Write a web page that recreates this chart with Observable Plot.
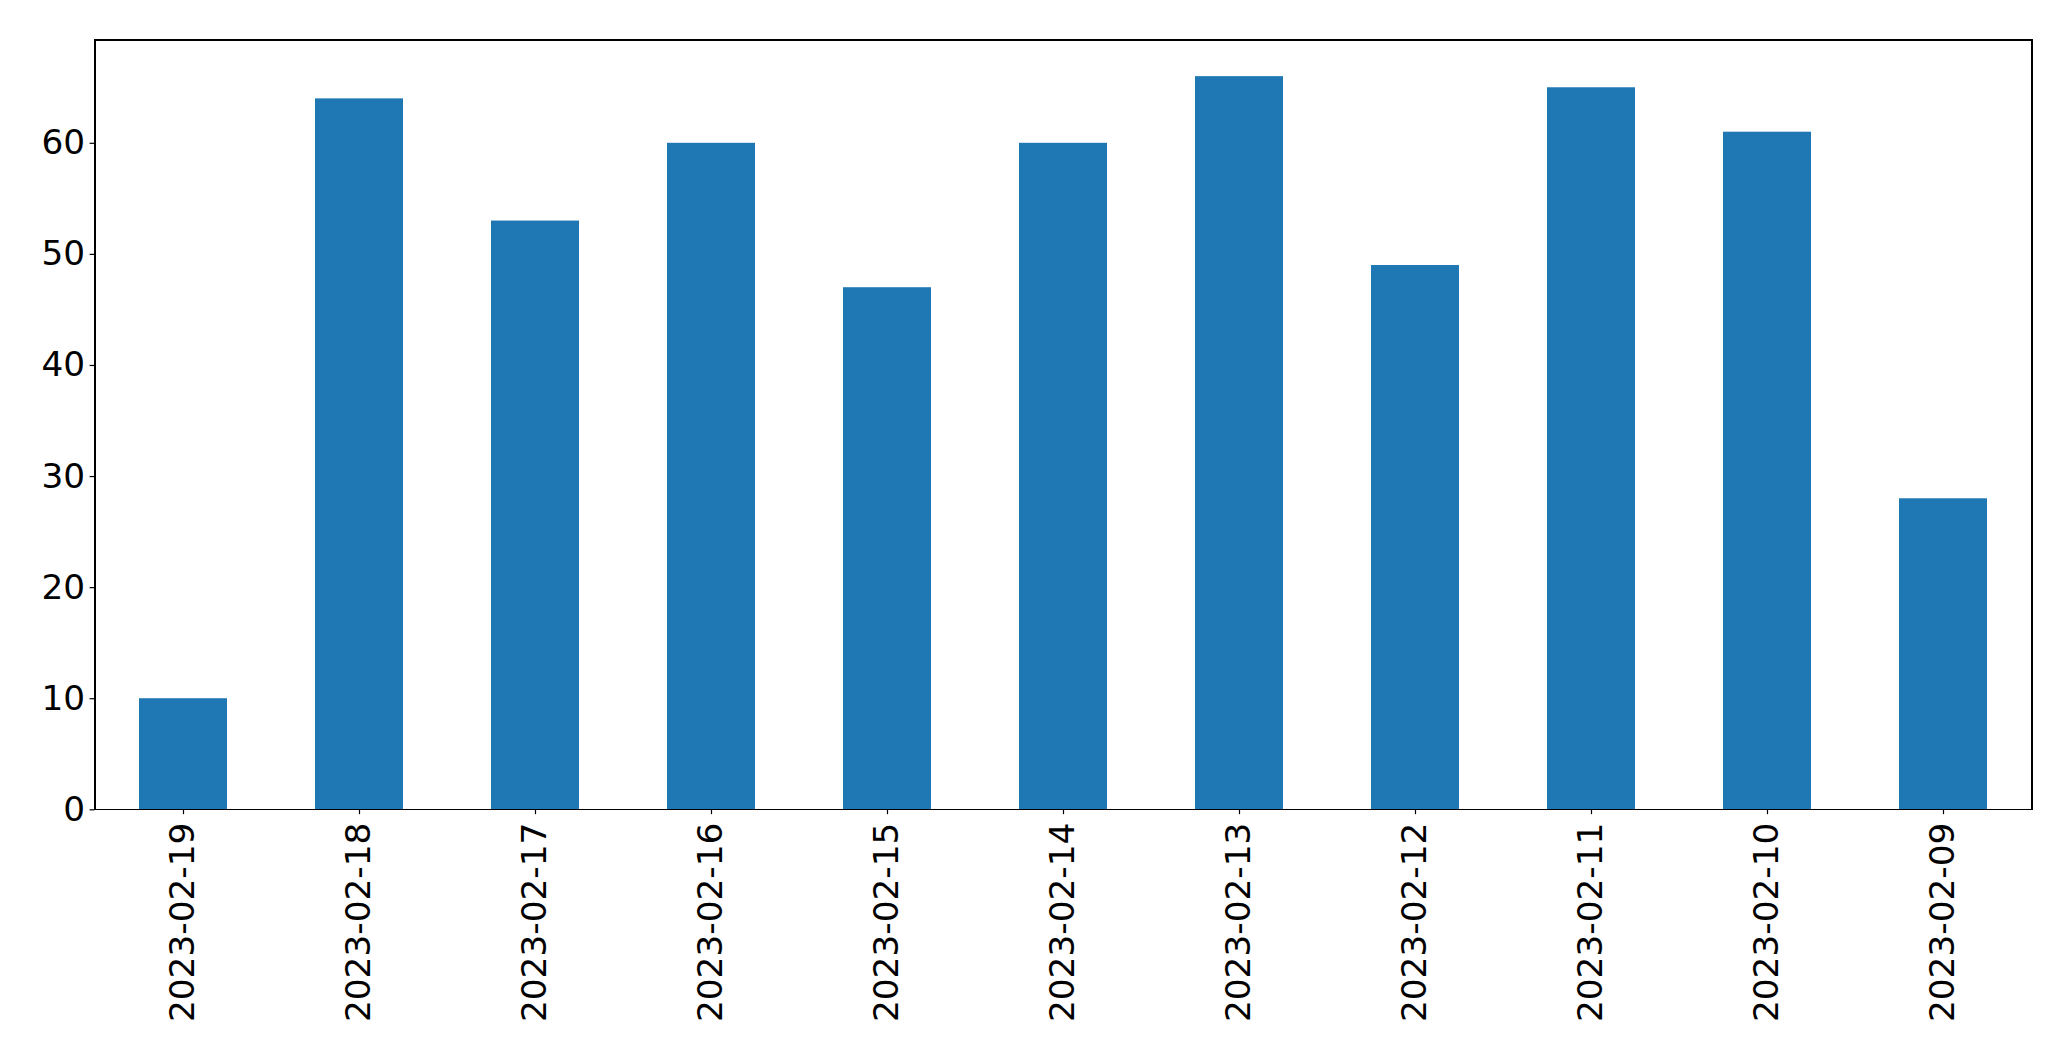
<!DOCTYPE html>
<html>
<head>
<meta charset="utf-8">
<script src="https://cdn.jsdelivr.net/npm/d3@7"></script>
<script src="https://cdn.jsdelivr.net/npm/@observablehq/plot@0.6"></script>
<style>
  html, body { margin: 0; padding: 0; background: white; }
  svg { display: block; }
</style>
</head>
<body>
<div id="chart"></div>
<script>
const dates = ["2023-02-19", "2023-02-18", "2023-02-17", "2023-02-16", "2023-02-15", "2023-02-14", "2023-02-13", "2023-02-12", "2023-02-11", "2023-02-10", "2023-02-09"];
const counts = [10, 64, 53, 60, 47, 60, 66, 49, 65, 61, 28];
const yTicks = [0, 10, 20, 30, 40, 50, 60];

const data = dates.map((d, i) => ({date: d, count: counts[i]}));

const chart = Plot.plot({
  width: 2071,
  height: 1061,
  marginLeft: 94.5,
  marginRight: 39.5,
  marginTop: 39.5,
  marginBottom: 251.7,
  style: {fontFamily: "'DejaVu Sans', sans-serif", fontSize: "34.3px", color: "black", background: "white", overflow: "visible"},
  x: {domain: dates, paddingInner: 0.5, paddingOuter: 0.25, label: null},
  y: {domain: [0, 69.3], label: null},
  marks: [
    Plot.barY(data, {x: "date", y: "count", fill: "#1f77b4"}),
    Plot.frame({stroke: "black", strokeWidth: 1.2, shapeRendering: "crispEdges"}),
    Plot.axisY({ticks: yTicks, tickSize: 4.9, tickPadding: 4.9, fontSize: 34.3, label: null, strokeWidth: 1.2}),
    Plot.axisX({tickSize: 4.9, tickPadding: 8, tickRotate: -90, fontSize: 34.3, label: null, strokeWidth: 1.2})
  ]
});
document.getElementById("chart").appendChild(chart);
</script>
</body>
</html>
